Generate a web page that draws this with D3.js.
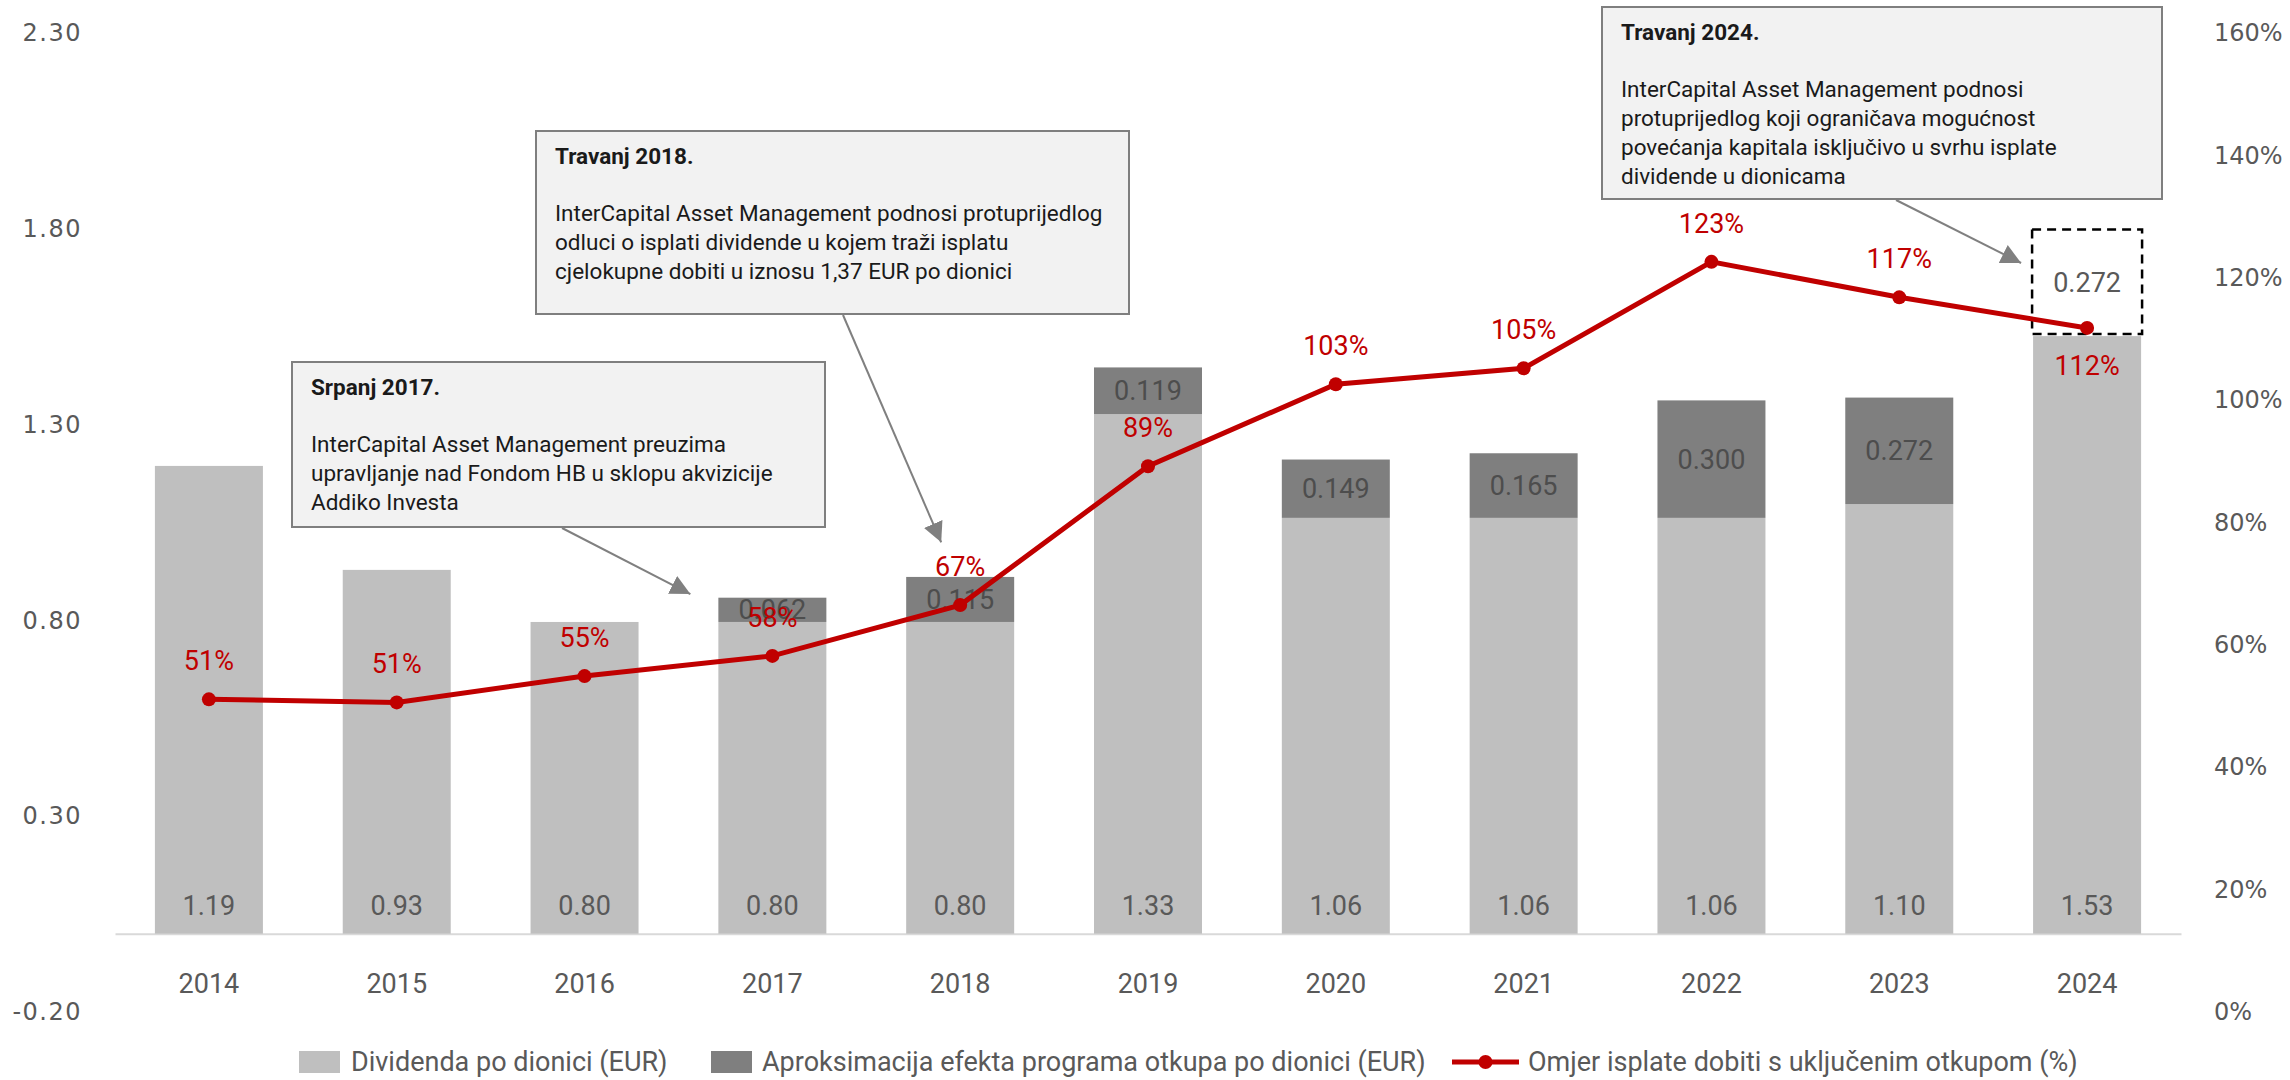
<!DOCTYPE html>
<html><head><meta charset="utf-8">
<script src="https://cdn.jsdelivr.net/npm/d3@7"></script>
<style>body{margin:0;background:#fff} svg{display:block}</style>
</head><body>
<svg id="c" width="2290" height="1080"></svg>
<script>
// ---------- data ----------
const years = ["2014","2015","2016","2017","2018","2019","2020","2021","2022","2023","2024"];
const dividend = [1.1945, 0.929, 0.796, 0.796, 0.796, 1.327, 1.0618, 1.0618, 1.0618, 1.097, 1.526];
const buyback  = [0, 0, 0, 0.062, 0.115, 0.119, 0.149, 0.165, 0.300, 0.272, 0];
const payoutRatio = [51.1, 50.6, 54.9, 58.2, 66.5, 89.2, 102.6, 105.2, 122.6, 116.8, 111.8];
const leftTicks  = [-0.20, 0.30, 0.80, 1.30, 1.80, 2.30];
const rightTicks = [0, 20, 40, 60, 80, 100, 120, 140, 160];
const projectedYear = "2024";
const projectedBuyback = 0.272;
const seriesNames = ["Dividenda po dionici (EUR)",
                     "Aproksimacija efekta programa otkupa po dionici (EUR)",
                     "Omjer isplate dobiti s uključenim otkupom (%)"];
const noteTitles = ["Srpanj 2017.", "Travanj 2018.", "Travanj 2024."];
const noteLines = [
  ["InterCapital Asset Management preuzima",
   "upravljanje nad Fondom HB u sklopu akvizicije",
   "Addiko Investa"],
  ["InterCapital Asset Management podnosi protuprijedlog",
   "odluci o isplati dividende u kojem traži isplatu",
   "cjelokupne dobiti u iznosu 1,37 EUR po dionici"],
  ["InterCapital Asset Management podnosi",
   "protuprijedlog koji ograničava mogućnost",
   "povećanja kapitala isključivo u svrhu isplate",
   "dividende u dionicama"]
];

// ---------- styles ----------
const C_LIGHT = "#bfbfbf", C_DARK = "#7f7f7f", C_RED = "#c00000", C_TXT = "#595959";
const F_MAIN = "Roboto, 'Open Sans', sans-serif";
const F_AXIS = "'DejaVu Sans', sans-serif";

const svg = d3.select("#c");
const x = d3.scaleBand().domain(years).range([115, 2181]).paddingInner(0.425).paddingOuter(0.2125);
const yL = d3.scaleLinear().domain([-0.2, 2.3]).range([1012, 33]);
const yR = d3.scaleLinear().domain([0, 160]).range([1012, 33]);
const bw = x.bandwidth();

// axes
const gL = svg.append("g").attr("transform", "translate(82,0)")
  .call(d3.axisLeft(yL).tickValues(leftTicks).tickSize(0).tickPadding(0)
        .tickFormat(d => d3.format(".2f")(d).replace("−", "-")));
const gR = svg.append("g").attr("transform", "translate(2214,0)")
  .call(d3.axisRight(yR).tickValues(rightTicks).tickSize(0).tickPadding(0)
        .tickFormat(d => d + "%"));
[gL, gR].forEach(g => {
  g.select(".domain").remove();
  g.selectAll("text").attr("fill", C_TXT).style("font-family", F_AXIS).style("font-size", "24px");
});
gL.selectAll("text").style("letter-spacing", "1.5px");

const gX = svg.append("g").attr("transform", `translate(0,${yL(0)})`)
  .call(d3.axisBottom(x).tickSize(0).tickPadding(40));
gX.select(".domain").attr("stroke", "#d9d9d9").attr("stroke-width", 2);
gX.selectAll("text").attr("fill", C_TXT).style("font-family", F_MAIN).style("font-size", "27px");

// bars
const data = years.map((yr, i) => ({yr, d: dividend[i], b: buyback[i], p: payoutRatio[i]}));
const gB = svg.append("g");
gB.selectAll("rect.l").data(data).join("rect").attr("class", "l")
  .attr("x", d => x(d.yr)).attr("width", bw)
  .attr("y", d => yL(d.d)).attr("height", d => yL(0) - yL(d.d)).attr("fill", C_LIGHT);
gB.selectAll("rect.dk").data(data.filter(d => d.b > 0)).join("rect").attr("class", "dk")
  .attr("x", d => x(d.yr)).attr("width", bw)
  .attr("y", d => yL(d.d + d.b)).attr("height", d => yL(d.d) - yL(d.d + d.b)).attr("fill", C_DARK);

// projected buyback (dashed)
const pd = data.find(d => d.yr === projectedYear);
svg.append("rect").attr("x", x(projectedYear) - 1).attr("width", bw + 2)
  .attr("y", yL(pd.d + projectedBuyback)).attr("height", yL(pd.d) - yL(pd.d + projectedBuyback) - 2)
  .attr("fill", "none").attr("stroke", "#000").attr("stroke-width", 2.5).attr("stroke-dasharray", "9,6");
svg.append("text").attr("x", x(projectedYear) + bw / 2).attr("y", yL(pd.d + projectedBuyback / 2))
  .attr("dy", "0.35em").attr("text-anchor", "middle").attr("fill", C_TXT)
  .style("font-family", F_MAIN).style("font-size", "27px").text(d3.format(".3f")(projectedBuyback));

// bar labels
const fontLbl = s => s.style("font-family", F_MAIN).style("font-size", "27px");
svg.append("g").selectAll("text").data(data).join("text")
  .attr("x", d => x(d.yr) + bw / 2).attr("y", yL(0) - 19)
  .attr("text-anchor", "middle").attr("fill", C_TXT).call(fontLbl)
  .text(d => d3.format(".2f")(d.d));
svg.append("g").selectAll("text").data(data.filter(d => d.b > 0)).join("text")
  .attr("x", d => x(d.yr) + bw / 2).attr("y", d => yL(d.d + d.b / 2)).attr("dy", "0.35em")
  .attr("text-anchor", "middle").attr("fill", "#4d4d4d").call(fontLbl)
  .text(d => d3.format(".3f")(d.b));

// line
const cx = d => x(d.yr) + bw / 2;
svg.append("path").datum(data)
  .attr("d", d3.line().x(cx).y(d => yR(d.p)))
  .attr("fill", "none").attr("stroke", C_RED).attr("stroke-width", 5);
svg.append("g").selectAll("circle").data(data).join("circle")
  .attr("cx", cx).attr("cy", d => yR(d.p)).attr("r", 7).attr("fill", C_RED);
svg.append("g").selectAll("text").data(data).join("text")
  .attr("x", cx).attr("y", d => d.yr === projectedYear ? yR(d.p) + 47 : yR(d.p) - 29)
  .attr("text-anchor", "middle").attr("fill", C_RED).call(fontLbl)
  .text(d => Math.round(d.p) + "%");

// annotations
svg.append("defs").append("marker").attr("id", "ah").attr("viewBox", "0 0 10 10")
  .attr("refX", 10).attr("refY", 5).attr("markerWidth", 20).attr("markerHeight", 20)
  .attr("markerUnits", "userSpaceOnUse").attr("orient", "auto")
  .append("path").attr("d", "M0,0L10,5L0,10Z").attr("fill", "#808080");

const boxes = [
  {x: 292, y: 362, w: 533, h: 165, from: [562, 528], to: [x("2017") - 28, yL(0.862) - 2]},
  {x: 536, y: 131, w: 593, h: 183, from: [843, 315], to: [x("2018") + 35, yL(0.915) - 33]},
  {x: 1602, y: 7, w: 560, h: 192, from: [1896, 200], to: [x("2024") - 12, 263]}
];
boxes.forEach((b, i) => {
  svg.append("line").attr("x1", b.from[0]).attr("y1", b.from[1]).attr("x2", b.to[0]).attr("y2", b.to[1])
    .attr("stroke", "#808080").attr("stroke-width", 2).attr("marker-end", "url(#ah)");
  svg.append("rect").attr("x", b.x).attr("y", b.y).attr("width", b.w).attr("height", b.h)
    .attr("fill", "#f2f2f2").attr("stroke", "#7f7f7f").attr("stroke-width", 2);
  const t = svg.append("text").style("font-family", F_MAIN).style("font-size", "22.5px").attr("fill", "#1a1a1a");
  t.append("tspan").attr("x", b.x + 19).attr("y", b.y + 33).style("font-weight", "bold").text(noteTitles[i]);
  noteLines[i].forEach((ln, j) => {
    t.append("tspan").attr("x", b.x + 19).attr("y", b.y + 90 + j * 29).text(ln);
  });
});

// legend
const lg = svg.append("g").style("font-family", F_MAIN).style("font-size", "27px");
const ly = 1062;
lg.append("rect").attr("x", 299).attr("y", ly - 11).attr("width", 41).attr("height", 22).attr("fill", C_LIGHT);
lg.append("text").attr("x", 351).attr("y", ly).attr("dy", "0.35em").attr("fill", C_TXT).text(seriesNames[0]);
lg.append("rect").attr("x", 711).attr("y", ly - 11).attr("width", 41).attr("height", 22).attr("fill", C_DARK);
lg.append("text").attr("x", 762).attr("y", ly).attr("dy", "0.35em").attr("fill", C_TXT).text(seriesNames[1]);
lg.append("line").attr("x1", 1452).attr("x2", 1519).attr("y1", ly).attr("y2", ly).attr("stroke", C_RED).attr("stroke-width", 5);
lg.append("circle").attr("cx", 1485.5).attr("cy", ly).attr("r", 7).attr("fill", C_RED);
lg.append("text").attr("x", 1528).attr("y", ly).attr("dy", "0.35em").attr("fill", C_TXT).text(seriesNames[2]);
</script>
</body></html>
